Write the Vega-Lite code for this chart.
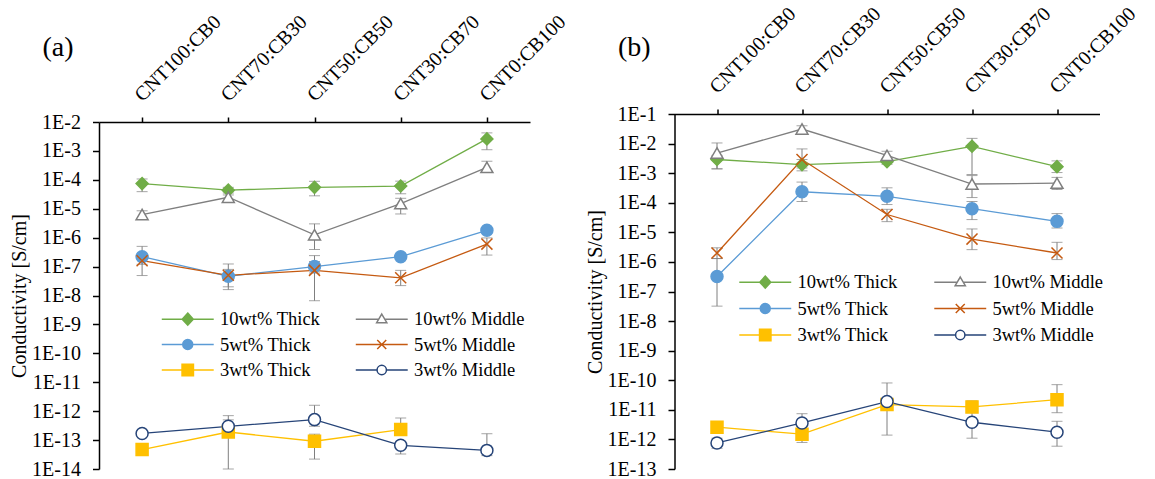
{
  "$schema": "https://vega.github.io/schema/vega-lite/v6.json",
  "background": "white",
  "padding": {"left": 9, "top": 3, "right": 5, "bottom": 5},
  "config": {
    "view": {"stroke": null},
    "font": "Liberation Serif, Tinos, Times New Roman, Times, Nimbus Roman, DejaVu Serif, serif",
    "title": {"font": "Liberation Serif, Tinos, Times New Roman, Times, Nimbus Roman, DejaVu Serif, serif"},
    "axis": {"grid": false, "domainColor": "black", "domainWidth": 1.5, "tickColor": "black", "tickWidth": 1.5, "labelColor": "black", "labelFont": "Liberation Serif, Tinos, Times New Roman, Times, Nimbus Roman, DejaVu Serif, serif", "titleFont": "Liberation Serif, Tinos, Times New Roman, Times, Nimbus Roman, DejaVu Serif, serif", "titleColor": "black", "titleFontWeight": "normal", "labelOverlap": false, "labelFlush": false, "labelBound": false},
    "axisX": {"tickSize": 5, "labelFontSize": 20, "labelAngle": -45, "labelAlign": "left", "labelBaseline": "alphabetic", "labelPadding": 15, "titleFontSize": 28, "titleAngle": 0, "titleAlign": "left", "titleBaseline": "alphabetic"},
    "axisY": {"tickSize": 6.5, "labelFontSize": 20, "labelPadding": 12, "titleFontSize": 20, "titlePadding": 2}
  },
  "data": {"values": [
    {"p":"a","s":"10wt% Thick","x":"CNT100:CB0","i":0,"y":7.4e-5,"lo":3.9e-5,"hi":1.07e-4},
    {"p":"a","s":"10wt% Thick","x":"CNT70:CB30","i":1,"y":4.4e-5,"lo":3.5e-5,"hi":5.5e-5},
    {"p":"a","s":"10wt% Thick","x":"CNT50:CB50","i":2,"y":5.5e-5,"lo":2.8e-5,"hi":8.9e-5},
    {"p":"a","s":"10wt% Thick","x":"CNT30:CB70","i":3,"y":6.1e-5,"lo":3.3e-5,"hi":9e-5},
    {"p":"a","s":"10wt% Thick","x":"CNT0:CB100","i":4,"y":2.6e-3,"lo":1.1e-3,"hi":4.2e-3},
    {"p":"a","s":"10wt% Middle","x":"CNT100:CB0","i":0,"y":6.3e-6,"lo":4.5e-6,"hi":8.5e-6},
    {"p":"a","s":"10wt% Middle","x":"CNT70:CB30","i":1,"y":2.5e-5,"lo":1.8e-5,"hi":3e-5},
    {"p":"a","s":"10wt% Middle","x":"CNT50:CB50","i":2,"y":1.26e-6,"lo":3.9e-7,"hi":3e-6},
    {"p":"a","s":"10wt% Middle","x":"CNT30:CB70","i":3,"y":1.5e-5,"lo":6.6e-6,"hi":2.3e-5},
    {"p":"a","s":"10wt% Middle","x":"CNT0:CB100","i":4,"y":2.7e-4,"lo":2e-4,"hi":4.4e-4},
    {"p":"a","s":"5wt% Thick","x":"CNT100:CB0","i":0,"y":2.2e-7,"lo":1.2e-7,"hi":5e-7},
    {"p":"a","s":"5wt% Thick","x":"CNT70:CB30","i":1,"y":4.6e-8,"lo":2e-8,"hi":1.23e-7},
    {"p":"a","s":"5wt% Thick","x":"CNT50:CB50","i":2,"y":1.0e-7,"lo":6e-8,"hi":1.5e-7},
    {"p":"a","s":"5wt% Thick","x":"CNT30:CB70","i":3,"y":2.2e-7},
    {"p":"a","s":"5wt% Thick","x":"CNT0:CB100","i":4,"y":1.8e-6},
    {"p":"a","s":"5wt% Middle","x":"CNT100:CB0","i":0,"y":1.6e-7,"lo":4.9e-8,"hi":2.5e-7},
    {"p":"a","s":"5wt% Middle","x":"CNT70:CB30","i":1,"y":5e-8,"lo":1.6e-8,"hi":8e-8},
    {"p":"a","s":"5wt% Middle","x":"CNT50:CB50","i":2,"y":7.4e-8,"lo":6.6e-9,"hi":2.4e-7},
    {"p":"a","s":"5wt% Middle","x":"CNT30:CB70","i":3,"y":4.1e-8,"lo":2.2e-8,"hi":7.4e-8},
    {"p":"a","s":"5wt% Middle","x":"CNT0:CB100","i":4,"y":6.0e-7,"lo":2.5e-7,"hi":9.8e-7},
    {"p":"a","s":"3wt% Thick","x":"CNT100:CB0","i":0,"y":4.7e-14},
    {"p":"a","s":"3wt% Thick","x":"CNT70:CB30","i":1,"y":1.9e-13,"lo":1e-14,"hi":7e-13},
    {"p":"a","s":"3wt% Thick","x":"CNT50:CB50","i":2,"y":9.1e-14,"lo":2.2e-14,"hi":1.6e-13},
    {"p":"a","s":"3wt% Thick","x":"CNT30:CB70","i":3,"y":2.3e-13,"lo":1.6e-13,"hi":5.8e-13},
    {"p":"a","s":"3wt% Middle","x":"CNT100:CB0","i":0,"y":1.7e-13,"lo":1.4e-13,"hi":2.1e-13},
    {"p":"a","s":"3wt% Middle","x":"CNT70:CB30","i":1,"y":3e-13,"lo":2e-13,"hi":5e-13},
    {"p":"a","s":"3wt% Middle","x":"CNT50:CB50","i":2,"y":5.1e-13,"lo":3e-13,"hi":1.6e-12},
    {"p":"a","s":"3wt% Middle","x":"CNT30:CB70","i":3,"y":6.6e-14,"lo":3.3e-14,"hi":9e-14},
    {"p":"a","s":"3wt% Middle","x":"CNT0:CB100","i":4,"y":4.4e-14,"lo":2.9e-14,"hi":1.66e-13},
    {"p":"b","s":"10wt% Thick","x":"CNT100:CB0","i":0,"y":2.9e-3,"lo":1.4e-3,"hi":4e-3},
    {"p":"b","s":"10wt% Thick","x":"CNT70:CB30","i":1,"y":1.94e-3,"lo":1.2e-3,"hi":2.9e-3},
    {"p":"b","s":"10wt% Thick","x":"CNT50:CB50","i":2,"y":2.45e-3,"lo":2e-3,"hi":3e-3},
    {"p":"b","s":"10wt% Thick","x":"CNT30:CB70","i":3,"y":8.1e-3,"lo":9e-4,"hi":1.5e-2},
    {"p":"b","s":"10wt% Thick","x":"CNT0:CB100","i":4,"y":1.66e-3,"lo":1.05e-3,"hi":2.6e-3},
    {"p":"b","s":"10wt% Middle","x":"CNT100:CB0","i":0,"y":4.8e-3,"lo":1.4e-3,"hi":1.05e-2},
    {"p":"b","s":"10wt% Middle","x":"CNT70:CB30","i":1,"y":3.1e-2,"lo":2.4e-2,"hi":4e-2},
    {"p":"b","s":"10wt% Middle","x":"CNT50:CB50","i":2,"y":4.0e-3,"lo":2.9e-3,"hi":5.5e-3},
    {"p":"b","s":"10wt% Middle","x":"CNT30:CB70","i":3,"y":4.3e-4,"lo":1.5e-4,"hi":8.3e-4},
    {"p":"b","s":"10wt% Middle","x":"CNT0:CB100","i":4,"y":4.6e-4,"lo":2.8e-4,"hi":7.2e-4},
    {"p":"b","s":"5wt% Thick","x":"CNT100:CB0","i":0,"y":3.2e-7,"lo":3.2e-8,"hi":1.3e-6},
    {"p":"b","s":"5wt% Thick","x":"CNT70:CB30","i":1,"y":2.35e-4,"lo":1.1e-4,"hi":5e-4},
    {"p":"b","s":"5wt% Thick","x":"CNT50:CB50","i":2,"y":1.65e-4,"lo":8.7e-5,"hi":3.2e-4},
    {"p":"b","s":"5wt% Thick","x":"CNT30:CB70","i":3,"y":6.3e-5,"lo":2.7e-5,"hi":1.1e-4},
    {"p":"b","s":"5wt% Thick","x":"CNT0:CB100","i":4,"y":2.35e-5,"lo":1.4e-5,"hi":4.3e-5},
    {"p":"b","s":"5wt% Middle","x":"CNT100:CB0","i":0,"y":2e-6,"lo":1.3e-6,"hi":3e-6},
    {"p":"b","s":"5wt% Middle","x":"CNT70:CB30","i":1,"y":2.9e-3,"lo":1.5e-3,"hi":6.6e-3},
    {"p":"b","s":"5wt% Middle","x":"CNT50:CB50","i":2,"y":4e-5,"lo":2.3e-5,"hi":6e-5},
    {"p":"b","s":"5wt% Middle","x":"CNT30:CB70","i":3,"y":5.9e-6,"lo":2.6e-6,"hi":1.3e-5},
    {"p":"b","s":"5wt% Middle","x":"CNT0:CB100","i":4,"y":2e-6,"lo":1.2e-6,"hi":4.6e-6},
    {"p":"b","s":"3wt% Thick","x":"CNT100:CB0","i":0,"y":2.6e-12},
    {"p":"b","s":"3wt% Thick","x":"CNT70:CB30","i":1,"y":1.5e-12,"lo":7.9e-13,"hi":2.2e-12},
    {"p":"b","s":"3wt% Thick","x":"CNT50:CB50","i":2,"y":1.5e-11,"lo":1.4e-12,"hi":8.1e-11},
    {"p":"b","s":"3wt% Thick","x":"CNT30:CB70","i":3,"y":1.25e-11,"lo":8e-12,"hi":2e-11},
    {"p":"b","s":"3wt% Thick","x":"CNT0:CB100","i":4,"y":2.2e-11,"lo":8e-12,"hi":7.1e-11},
    {"p":"b","s":"3wt% Middle","x":"CNT100:CB0","i":0,"y":7.6e-13,"lo":5e-13,"hi":1.1e-12},
    {"p":"b","s":"3wt% Middle","x":"CNT70:CB30","i":1,"y":3.6e-12,"lo":1.6e-12,"hi":7.4e-12},
    {"p":"b","s":"3wt% Middle","x":"CNT50:CB50","i":2,"y":1.9e-11,"lo":1e-11,"hi":2.5e-11},
    {"p":"b","s":"3wt% Middle","x":"CNT30:CB70","i":3,"y":3.8e-12,"lo":1.1e-12,"hi":1e-11},
    {"p":"b","s":"3wt% Middle","x":"CNT0:CB100","i":4,"y":1.75e-12,"lo":5.9e-13,"hi":4.1e-12}
  ]},
  "spacing": 14.5,
  "resolve": {"scale": {"x": "independent", "y": "independent", "shape": "independent", "fill": "independent", "stroke": "independent"}, "legend": {"shape": "independent", "fill": "independent", "stroke": "independent"}},
  "hconcat": [
    {
      "bounds": "flush",
      "spacing": 0,
      "resolve": {"scale": {"x": "independent", "y": "independent", "shape": "independent", "fill": "independent", "stroke": "independent"}, "legend": {"shape": "independent", "fill": "independent", "stroke": "independent"}},
      "vconcat": [
        {"width": 431, "height": 8, "transform": [{"filter": "false"}], "mark": {"type": "point", "opacity": 0}},
        {
          "width": 431, "height": 347,
          "transform": [{"filter": "datum.p === 'a'"}],
          "resolve": {"scale": {"shape": "independent", "fill": "independent", "stroke": "independent"}},
          "encoding": {
            "x": {"field": "x", "type": "nominal", "sort": ["CNT100:CB0","CNT70:CB30","CNT50:CB50","CNT30:CB70","CNT0:CB100"], "scale": {"type": "point", "padding": 0.5}, "axis": {"orient": "top", "title": "(a)", "titleX": -57, "titleY": -67}},
            "y": {"field": "y", "type": "quantitative", "scale": {"type": "log", "domain": [1e-14, 1e-2], "nice": false}, "axis": {"values": [1e-14,1e-13,1e-12,1e-11,1e-10,1e-9,1e-8,1e-7,1e-6,1e-5,1e-4,1e-3,1e-2], "labelExpr": "'1E' + round(log(datum.value)/LN10)", "title": "Conductivity [S/cm]"}}
          },
          "layer": [
            {"transform": [{"filter": "isValid(datum.lo)"}], "mark": {"type": "rule", "color": "#7F7F7F", "strokeWidth": 1}, "encoding": {"y": {"field": "lo", "type": "quantitative"}, "y2": {"field": "hi"}}},
            {"transform": [{"filter": "isValid(datum.lo)"}], "mark": {"type": "tick", "color": "#7F7F7F", "thickness": 1, "size": 11, "orient": "horizontal"}, "encoding": {"y": {"field": "lo", "type": "quantitative"}}},
            {"transform": [{"filter": "isValid(datum.lo)"}], "mark": {"type": "tick", "color": "#7F7F7F", "thickness": 1, "size": 11, "orient": "horizontal"}, "encoding": {"y": {"field": "hi", "type": "quantitative"}}},
            {"mark": {"type": "line", "strokeWidth": 1.3}, "encoding": {"order": {"field": "i", "type": "quantitative"}, "stroke": {"field": "s", "type": "nominal", "scale": {"domain": ["3wt% Middle","5wt% Middle","10wt% Middle","3wt% Thick","5wt% Thick","10wt% Thick"], "range": ["#264478","#C55A11","#7F7F7F","#FFC000","#5B9BD5","#70AD47"]}, "legend": null}}},
            {"mark": {"type": "point", "opacity": 1, "strokeWidth": 1.5, "size": 144}, "encoding": {
              "stroke": {"field": "s", "type": "nominal", "scale": {"domain": ["3wt% Middle","5wt% Middle","10wt% Middle","3wt% Thick","5wt% Thick","10wt% Thick"], "range": ["#264478","#C55A11","#7F7F7F","#FFC000","#5B9BD5","#70AD47"]}, "legend": null},
              "fill": {"field": "s", "type": "nominal", "scale": {"domain": ["3wt% Middle","5wt% Middle","10wt% Middle","3wt% Thick","5wt% Thick","10wt% Thick"], "range": ["#FFFFFF","transparent","#FFFFFF","#FFC000","#5B9BD5","#70AD47"]}, "legend": null},
              "shape": {"field": "s", "type": "nominal", "scale": {"domain": ["3wt% Middle","5wt% Middle","10wt% Middle","3wt% Thick","5wt% Thick","10wt% Thick"], "range": ["circle","M-0.92,-0.92L0.92,0.92M-0.92,0.92L0.92,-0.92","triangle-up","square","circle","diamond"]}, "legend": null}
            }},
            {"transform": [{"filter": "false"}], "mark": {"type": "point", "opacity": 1, "strokeWidth": 1.5, "size": 144}, "encoding": {
              "stroke": {"field": "s", "type": "nominal", "scale": {"domain": ["10wt% Thick","5wt% Thick","3wt% Thick","10wt% Middle","5wt% Middle","3wt% Middle"], "range": ["#70AD47","#5B9BD5","#FFC000","#7F7F7F","#C55A11","#264478"]}},
              "fill": {"field": "s", "type": "nominal", "scale": {"domain": ["10wt% Thick","5wt% Thick","3wt% Thick","10wt% Middle","5wt% Middle","3wt% Middle"], "range": ["#70AD47","#5B9BD5","#FFC000","#FFFFFF","transparent","#FFFFFF"]}},
              "shape": {"field": "s", "type": "nominal", "scale": {"domain": ["10wt% Thick","5wt% Thick","3wt% Thick","10wt% Middle","5wt% Middle","3wt% Middle"], "range": ["M-4.33,0H-0.92M0.92,0H4.33M0,-1L0.92,0L0,1L-0.92,0Z","M-4.33,0H-0.83M0.83,0H4.33M-0.83,0A0.83,0.83,0,1,0,0.83,0A0.83,0.83,0,1,0,-0.83,0Z","M-4.33,0H-0.95M0.95,0H4.33M-0.95,-0.95H0.95V0.95H-0.95Z","M-4.33,0H-0.5M0.5,0H4.33M0,-0.85L0.85,0.6L-0.85,0.6Z","M-4.33,0H4.33M-0.75,-0.75L0.75,0.75M-0.75,0.75L0.75,-0.75","M-4.33,0H-0.78M0.78,0H4.33M-0.78,0A0.78,0.78,0,1,0,0.78,0A0.78,0.78,0,1,0,-0.78,0Z"]},
                "legend": {"orient": "none", "legendX": 59.5, "legendY": 187.75, "columns": 2, "columnPadding": 32, "rowPadding": 6.5, "padding": 0, "title": null, "symbolSize": 144, "symbolOffset": 20, "labelOffset": 23, "labelFont": "Liberation Serif, Tinos, Times New Roman, Times, Nimbus Roman, DejaVu Serif, serif", "labelFontSize": 18.5, "labelColor": "black", "symbolStrokeWidth": 1.5}}
            }}
          ]
        }
      ]
    },
    {
      "width": 425, "height": 355,
      "transform": [{"filter": "datum.p === 'b'"}],
      "resolve": {"scale": {"shape": "independent", "fill": "independent", "stroke": "independent"}},
      "encoding": {
        "x": {"field": "x", "type": "nominal", "sort": ["CNT100:CB0","CNT70:CB30","CNT50:CB50","CNT30:CB70","CNT0:CB100"], "scale": {"type": "point", "padding": 0.5}, "axis": {"orient": "top", "title": "(b)", "titleX": -57, "titleY": -59}},
        "y": {"field": "y", "type": "quantitative", "scale": {"type": "log", "domain": [1e-13, 1e-1], "nice": false}, "axis": {"values": [1e-13,1e-12,1e-11,1e-10,1e-9,1e-8,1e-7,1e-6,1e-5,1e-4,1e-3,1e-2,1e-1], "labelExpr": "'1E' + round(log(datum.value)/LN10)", "title": "Conductivity [S/cm]"}}
      },
      "layer": [
        {"transform": [{"filter": "isValid(datum.lo)"}], "mark": {"type": "rule", "color": "#7F7F7F", "strokeWidth": 1}, "encoding": {"y": {"field": "lo", "type": "quantitative"}, "y2": {"field": "hi"}}},
        {"transform": [{"filter": "isValid(datum.lo)"}], "mark": {"type": "tick", "color": "#7F7F7F", "thickness": 1, "size": 11, "orient": "horizontal"}, "encoding": {"y": {"field": "lo", "type": "quantitative"}}},
        {"transform": [{"filter": "isValid(datum.lo)"}], "mark": {"type": "tick", "color": "#7F7F7F", "thickness": 1, "size": 11, "orient": "horizontal"}, "encoding": {"y": {"field": "hi", "type": "quantitative"}}},
        {"mark": {"type": "line", "strokeWidth": 1.3}, "encoding": {"order": {"field": "i", "type": "quantitative"}, "stroke": {"field": "s", "type": "nominal", "scale": {"domain": ["3wt% Middle","5wt% Middle","10wt% Middle","3wt% Thick","5wt% Thick","10wt% Thick"], "range": ["#264478","#C55A11","#7F7F7F","#FFC000","#5B9BD5","#70AD47"]}, "legend": null}}},
        {"mark": {"type": "point", "opacity": 1, "strokeWidth": 1.5, "size": 144}, "encoding": {
          "stroke": {"field": "s", "type": "nominal", "scale": {"domain": ["3wt% Middle","5wt% Middle","10wt% Middle","3wt% Thick","5wt% Thick","10wt% Thick"], "range": ["#264478","#C55A11","#7F7F7F","#FFC000","#5B9BD5","#70AD47"]}, "legend": null},
          "fill": {"field": "s", "type": "nominal", "scale": {"domain": ["3wt% Middle","5wt% Middle","10wt% Middle","3wt% Thick","5wt% Thick","10wt% Thick"], "range": ["#FFFFFF","transparent","#FFFFFF","#FFC000","#5B9BD5","#70AD47"]}, "legend": null},
          "shape": {"field": "s", "type": "nominal", "scale": {"domain": ["3wt% Middle","5wt% Middle","10wt% Middle","3wt% Thick","5wt% Thick","10wt% Thick"], "range": ["circle","M-0.92,-0.92L0.92,0.92M-0.92,0.92L0.92,-0.92","triangle-up","square","circle","diamond"]}, "legend": null}
        }},
        {"transform": [{"filter": "false"}], "mark": {"type": "point", "opacity": 1, "strokeWidth": 1.5, "size": 144}, "encoding": {
          "stroke": {"field": "s", "type": "nominal", "scale": {"domain": ["10wt% Thick","5wt% Thick","3wt% Thick","10wt% Middle","5wt% Middle","3wt% Middle"], "range": ["#70AD47","#5B9BD5","#FFC000","#7F7F7F","#C55A11","#264478"]}},
          "fill": {"field": "s", "type": "nominal", "scale": {"domain": ["10wt% Thick","5wt% Thick","3wt% Thick","10wt% Middle","5wt% Middle","3wt% Middle"], "range": ["#70AD47","#5B9BD5","#FFC000","#FFFFFF","transparent","#FFFFFF"]}},
          "shape": {"field": "s", "type": "nominal", "scale": {"domain": ["10wt% Thick","5wt% Thick","3wt% Thick","10wt% Middle","5wt% Middle","3wt% Middle"], "range": ["M-4.33,0H-0.92M0.92,0H4.33M0,-1L0.92,0L0,1L-0.92,0Z","M-4.33,0H-0.83M0.83,0H4.33M-0.83,0A0.83,0.83,0,1,0,0.83,0A0.83,0.83,0,1,0,-0.83,0Z","M-4.33,0H-0.95M0.95,0H4.33M-0.95,-0.95H0.95V0.95H-0.95Z","M-4.33,0H-0.5M0.5,0H4.33M0,-0.85L0.85,0.6L-0.85,0.6Z","M-4.33,0H4.33M-0.75,-0.75L0.75,0.75M-0.75,0.75L0.75,-0.75","M-4.33,0H-0.78M0.78,0H4.33M-0.78,0A0.78,0.78,0,1,0,0.78,0A0.78,0.78,0,1,0,-0.78,0Z"]},
            "legend": {"orient": "none", "legendX": 61.5, "legendY": 158.75, "columns": 2, "columnPadding": 33, "rowPadding": 7.5, "padding": 0, "title": null, "symbolSize": 144, "symbolOffset": 20, "labelOffset": 23, "labelFont": "Liberation Serif, Tinos, Times New Roman, Times, Nimbus Roman, DejaVu Serif, serif", "labelFontSize": 18.5, "labelColor": "black", "symbolStrokeWidth": 1.5}}
        }}
      ]
    }
  ]
}
